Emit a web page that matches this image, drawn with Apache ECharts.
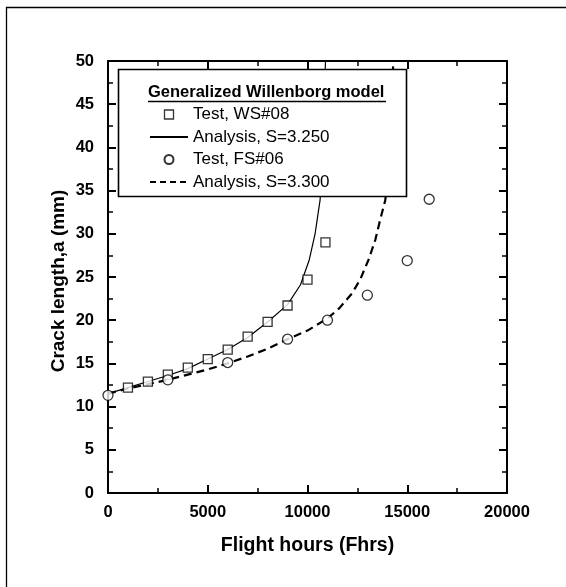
<!DOCTYPE html>
<html>
<head>
<meta charset="utf-8">
<script src="https://cdn.jsdelivr.net/npm/echarts@6/dist/echarts.min.js"></script>
<style>
html,body{margin:0;padding:0;background:#fff;}
#chart{width:566px;height:587px;}
</style>
</head>
<body>
<div id="chart"></div>
<script>
// ---- Data ----
var xTicks = [0, 5000, 10000, 15000, 20000];
var yTicks = [0, 5, 10, 15, 20, 25, 30, 35, 40, 45, 50];

var ws08X = [1000, 2000, 3000, 4000, 5000, 6000, 7000, 8000, 9000, 10000, 10900];
var ws08Y = [12.2, 12.9, 13.7, 14.5, 15.5, 16.6, 18.1, 19.8, 21.7, 24.7, 29.0];

var fs06X = [0, 3000, 6000, 9000, 11000, 13000, 15000, 16100];
var fs06Y = [11.3, 13.1, 15.1, 17.8, 20.0, 22.9, 26.9, 34.0];

var an325X = [0, 1000, 2000, 3000, 4000, 5000, 6000, 7000, 8000, 9000, 9650, 10090, 10380, 10630, 10800, 10900];
var an325Y = [11.5, 12.2, 12.9, 13.6, 14.4, 15.5, 16.6, 18.0, 19.8, 21.8, 24.1, 27.0, 30.0, 33.9, 40.0, 50.0];

var an330X = [0, 1000, 2000, 3000, 4000, 5000, 6000, 7000, 8000, 9000, 10000, 11000, 11600, 12230, 12640, 13060, 13400, 13640, 13900, 14150, 14300];
var an330Y = [11.5, 12.1, 12.6, 13.1, 13.7, 14.3, 15.0, 15.8, 16.7, 17.8, 18.8, 20.2, 21.4, 23.1, 24.7, 27.0, 29.3, 31.6, 33.9, 40.0, 50.0];

var legendTitle = 'Generalized Willenborg model';
var names = ['Test, WS#08', 'Analysis, S=3.250', 'Test, FS#06', 'Analysis, S=3.300'];
var xName = 'Flight hours (Fhrs)';
var yName = 'Crack length,a (mm)';

function pairs(xs, ys) { return xs.map(function (x, i) { return [x, ys[i]]; }); }

var FONT = 'Liberation Sans, Arial, sans-serif';

function axisCommon(showLabel) {
  return {
    axisLine: { show: true, onZero: false, lineStyle: { color: '#000', width: 2 } },
    axisTick: { show: true, inside: true, length: 8, lineStyle: { color: '#000', width: 2 } },
    minorTick: { show: true, splitNumber: 2, length: 5, lineStyle: { color: '#000', width: 1.5 } },
    splitLine: { show: false },
    axisLabel: { show: showLabel, color: '#000', fontFamily: FONT, fontWeight: 'bold', fontSize: 16.5,
      formatter: function (v) { return String(v); } }
  };
}

var chart = echarts.init(document.getElementById('chart'), null, { renderer: 'canvas' });

var xBottom = Object.assign(axisCommon(true), {
  type: 'value', position: 'bottom', min: xTicks[0], max: xTicks[xTicks.length - 1], interval: xTicks[1] - xTicks[0],
  name: xName, nameLocation: 'middle', nameGap: 43,
  nameTextStyle: { color: '#000', fontFamily: FONT, fontWeight: 'bold', fontSize: 19.5 }
});
xBottom.axisLabel.margin = 11;
var xTop = Object.assign(axisCommon(false), {
  type: 'value', position: 'top', min: xTicks[0], max: xTicks[xTicks.length - 1], interval: xTicks[1] - xTicks[0]
});
var yLeft = Object.assign(axisCommon(true), {
  type: 'value', position: 'left', min: yTicks[0], max: yTicks[yTicks.length - 1], interval: yTicks[1] - yTicks[0],
  name: yName, nameLocation: 'middle', nameGap: 40, nameRotate: 90, nameMoveOverlap: false,
  nameTextStyle: { color: '#000', fontFamily: FONT, fontWeight: 'bold', fontSize: 19, padding: [0, 8, 0, 0] }
});
yLeft.axisLabel.margin = 14;
var yRight = Object.assign(axisCommon(false), {
  type: 'value', position: 'right', min: yTicks[0], max: yTicks[yTicks.length - 1], interval: yTicks[1] - yTicks[0]
});

var hiddenDot = { opacity: 0, color: 'rgba(0,0,0,0)', borderWidth: 0 };
var squareIcon = 'path://M0,0H10V10H0Z';

var option = {
  backgroundColor: '#fff',
  animation: false,
  grid: { left: 108, right: 59, top: 61, bottom: 94, containLabel: false },
  xAxis: [xBottom, xTop],
  yAxis: [yLeft, yRight],
  legend: {
    show: true, orient: 'vertical', left: 149, top: 106, padding: 0,
    itemWidth: 38, itemHeight: 9, itemGap: 5.5, z: 120,
    selectedMode: false, symbolKeepAspect: true,
    textStyle: { color: '#000', fontFamily: FONT, fontSize: 17 },
    data: [
      { name: names[0], icon: squareIcon, itemStyle: { color: '#fff', borderColor: '#000', borderWidth: 1.3 } },
      { name: names[1], itemStyle: hiddenDot },
      { name: names[2], icon: 'circle' },
      { name: names[3], itemStyle: hiddenDot, lineStyle: { type: [6, 4] } }
    ]
  },
  graphic: [
    { type: 'rect', z: 0, silent: true, shape: { x: 6.5, y: 7.5, width: 700, height: 700 },
      style: { fill: 'none', stroke: '#000', lineWidth: 1.3 } },
    { type: 'rect', z: 100, silent: true, shape: { x: 118.5, y: 69.5, width: 288, height: 127 },
      style: { fill: '#fff', stroke: '#000', lineWidth: 1.6 } },
    { type: 'text', z: 101, silent: true, left: 148, top: 84,
      style: { text: legendTitle, fill: '#000', font: 'bold 16.5px ' + FONT } },
    { type: 'line', z: 101, silent: true, shape: { x1: 148, y1: 101.5, x2: 386, y2: 101.5 },
      style: { stroke: '#000', lineWidth: 1.4 } }
  ],
  series: [
    { name: names[0], type: 'scatter', xAxisIndex: 0, yAxisIndex: 0, data: pairs(ws08X, ws08Y),
      symbol: 'rect', symbolSize: 9, z: 5,
      itemStyle: { color: '#fff', borderColor: '#000', borderWidth: 1.3 } },
    { name: names[1], type: 'line', xAxisIndex: 0, yAxisIndex: 0, data: pairs(an325X, an325Y),
      symbol: 'none', smooth: false, z: 3,
      lineStyle: { color: '#000', width: 1.2, type: 'solid' }, itemStyle: { color: '#000' } },
    { name: names[2], type: 'scatter', xAxisIndex: 0, yAxisIndex: 0, data: pairs(fs06X, fs06Y),
      symbol: 'circle', symbolSize: 10, z: 5,
      itemStyle: { color: '#fff', borderColor: '#000', borderWidth: 1.3 } },
    { name: names[3], type: 'line', xAxisIndex: 0, yAxisIndex: 0, data: pairs(an330X, an330Y),
      symbol: 'none', smooth: false, z: 3,
      lineStyle: { color: '#000', width: 2.2, type: [8, 5] }, itemStyle: { color: '#000' } }
  ]
};

chart.setOption(option);
</script>
</body>
</html>
